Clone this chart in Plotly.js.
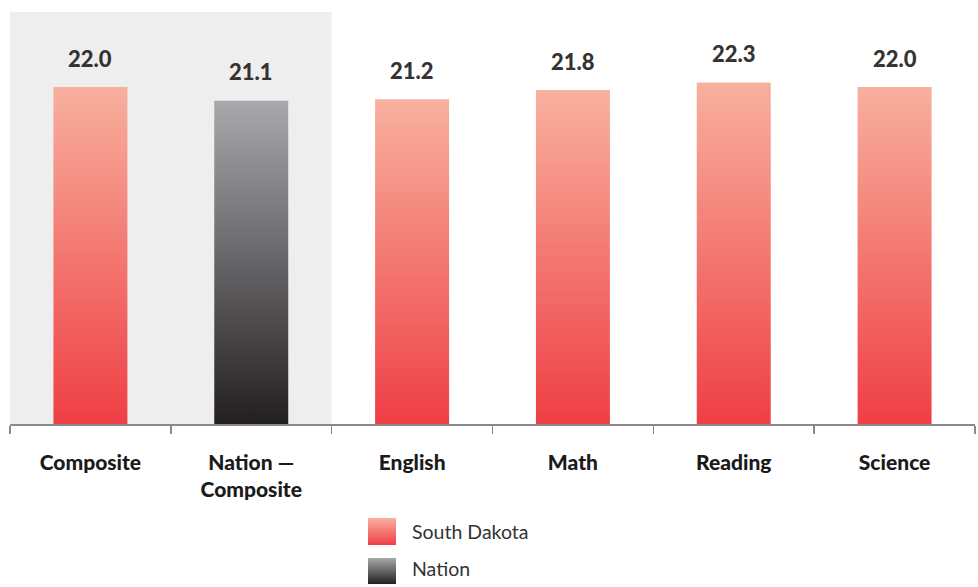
<!DOCTYPE html>
<html>
<head>
<meta charset="utf-8">
<script src="https://cdn.plot.ly/plotly-3.0.1.min.js"></script>
<style>
  html, body { margin: 0; padding: 0; background: #fff; }
  #chart { width: 978px; height: 587px; }
</style>
</head>
<body>
<div id="chart"></div>
<script>
// ---- data ----
const categories = ["Composite", "Nation —<br>Composite", "English", "Math", "Reading", "Science"];
const sdCategories = ["Composite", "English", "Math", "Reading", "Science"];
const sdValues = [22.0, 21.2, 21.8, 22.3, 22.0];
const nationCategories = ["Nation —<br>Composite"];
const nationValues = [21.1];
const legendNames = ["South Dakota", "Nation"];

// ---- geometry helpers (page pixels -> paper coords) ----
const ML = 10, MR = 3, MT = 12, MB = 163, W = 978, H = 587;
const PW = W - ML - MR, PH = H - MT - MB;
const px = p => (p - ML) / PW;
const py = p => (H - MB - p) / PH;

const font = "Lato, 'Open Sans', 'DejaVu Sans', sans-serif";

const traces = [
  {
    type: "bar", name: legendNames[0], x: sdCategories, y: sdValues,
    marker: { color: "#F26A62", line: { width: 0 } }, hoverinfo: "x+y", width: 0.46
  },
  {
    type: "bar", name: legendNames[1], x: nationCategories, y: nationValues,
    marker: { color: "#666", line: { width: 0 } }, hoverinfo: "x+y", width: 0.46
  }
];

const valueFont = { family: font, size: 22, color: "#333", weight: 900 };
const annotations = [];
sdCategories.forEach((c, i) => annotations.push({
  x: c, y: sdValues[i], xref: "x", yref: "y", text: sdValues[i].toFixed(1),
  showarrow: false, yanchor: "middle", yshift: 29, font: valueFont
}));
nationCategories.forEach((c, i) => annotations.push({
  x: c, y: nationValues[i], xref: "x", yref: "y", text: nationValues[i].toFixed(1),
  showarrow: false, yanchor: "middle", yshift: 29, font: valueFont
}));
// legend texts
annotations.push({
  xref: "paper", yref: "paper", x: px(410), y: py(531), xanchor: "left", yanchor: "middle",
  text: legendNames[0], showarrow: false, font: { family: font, size: 19.5, color: "#333" }
});
annotations.push({
  xref: "paper", yref: "paper", x: px(410), y: py(568), xanchor: "left", yanchor: "middle",
  text: legendNames[1], showarrow: false, font: { family: font, size: 19.5, color: "#333" }
});

const shapes = [
  { type: "rect", xref: "x", yref: "paper", x0: -0.5, x1: 1.5, y0: 0, y1: 1,
    fillcolor: "#EEEEEE", line: { width: 0 }, layer: "below" },
  { type: "rect", xref: "paper", yref: "paper", x0: px(368), x1: px(396), y0: py(518), y1: py(545),
    fillcolor: "#F26A62", line: { width: 0 } },
  { type: "rect", xref: "paper", yref: "paper", x0: px(368), x1: px(396), y0: py(558), y1: py(584),
    fillcolor: "#666", line: { width: 0 } }
];

const layout = {
  width: W, height: H,
  margin: { l: ML, r: MR, t: MT, b: MB, pad: 0 },
  paper_bgcolor: "#fff", plot_bgcolor: "rgba(0,0,0,0)",
  barmode: "overlay", showlegend: false,
  font: { family: font },
  xaxis: {
    type: "category", categoryorder: "array", categoryarray: categories,
    range: [-0.5, 5.5], tickson: "boundaries", ticks: "outside", ticklen: 8,
    tickcolor: "#8a8a8a", tickwidth: 1.5, showline: true, linecolor: "#8a8a8a", linewidth: 1.5,
    showgrid: false, zeroline: false, ticklabelstandoff: 19,
    tickfont: { family: font, size: 21, color: "#1a1a1a", weight: 900 }
  },
  yaxis: {
    range: [0, 26.9], visible: false, showgrid: false, zeroline: false, fixedrange: true
  },
  annotations: annotations,
  shapes: shapes
};

function addGradients() {
  const svg = document.querySelector("#chart .main-svg");
  const ns = "http://www.w3.org/2000/svg";
  let defs = svg.querySelector("defs");
  if (!defs) { defs = document.createElementNS(ns, "defs"); svg.insertBefore(defs, svg.firstChild); }
  const mk = (id, c1, c2) => {
    const g = document.createElementNS(ns, "linearGradient");
    g.setAttribute("id", id);
    g.setAttribute("x1", "0"); g.setAttribute("y1", "0");
    g.setAttribute("x2", "0"); g.setAttribute("y2", "1");
    [[0, c1], [1, c2]].forEach(([o, c]) => {
      const s = document.createElementNS(ns, "stop");
      s.setAttribute("offset", o); s.setAttribute("stop-color", c);
      g.appendChild(s);
    });
    defs.appendChild(g);
  };
  mk("gradRed", "#F8B09E", "#EF3F45");
  mk("gradGray", "#A8A9AC", "#231F20");
  const tr = document.querySelectorAll("#chart .barlayer .trace");
  tr.forEach((t, i) => {
    t.querySelectorAll(".point path").forEach(p => {
      p.style.fill = i === 0 ? "url(#gradRed)" : "url(#gradGray)";
    });
  });
  document.querySelectorAll("#chart .shapelayer path").forEach(p => {
    const idx = p.getAttribute("data-index");
    if (idx === "1") p.style.fill = "url(#gradRed)";
    if (idx === "2") p.style.fill = "url(#gradGray)";
  });
}

Plotly.newPlot("chart", traces, layout, { displayModeBar: false, staticPlot: true })
  .then(addGradients);
</script>
</body>
</html>
